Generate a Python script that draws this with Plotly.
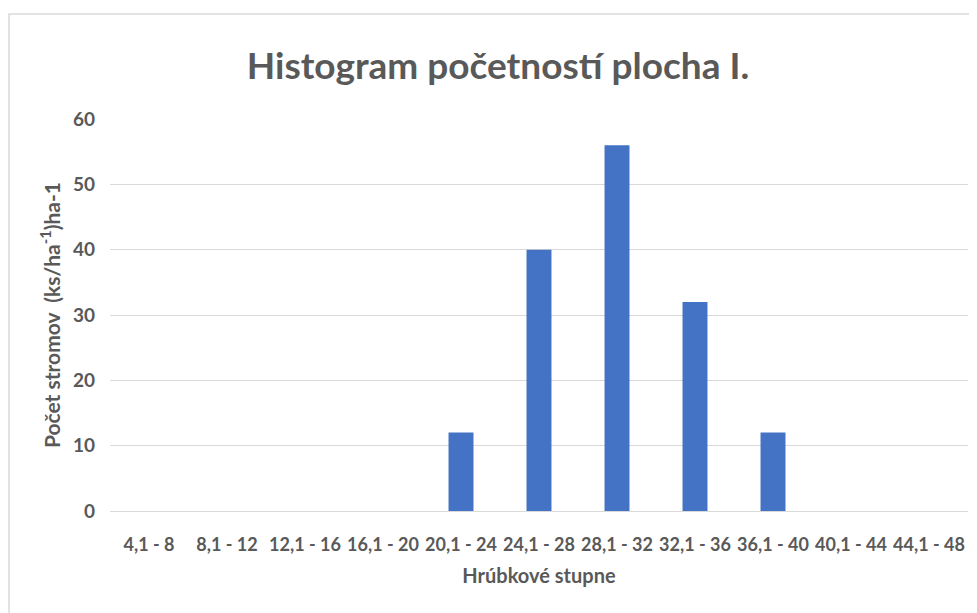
import plotly.graph_objects as go

categories = ["4,1 - 8", "8,1 - 12", "12,1 - 16", "16,1 - 20", "20,1 - 24", "24,1 - 28",
              "28,1 - 32", "32,1 - 36", "36,1 - 40", "40,1 - 44", "44,1 - 48"]
values = [0, 0, 0, 0, 12, 40, 56, 32, 12, 0, 0]
y_ticks = [0, 10, 20, 30, 40, 50, 60]

FONT = "Lato"
GRAY = "#595959"

W, H = 969, 605
L, R, T, B = 102, 9, 111, 102
PW, PH = W - L - R, H - T - B

fig = go.Figure(go.Bar(x=categories, y=values, marker=dict(color="#4472C4", line=dict(width=0))))

fig.update_layout(
    width=W, height=H,
    margin=dict(l=L, r=R, t=T, b=B),
    paper_bgcolor="white", plot_bgcolor="white",
    bargap=0.68,
    showlegend=False,
    title=dict(text="Histogram početností plocha I.", x=490 / W, xanchor="center",
               y=1 - 58 / H, yanchor="middle", yref="container",
               font=dict(family=FONT, size=37, color=GRAY, weight="bold")),
    font=dict(family=FONT, color=GRAY),
)
fig.update_xaxes(
    tickfont=dict(family=FONT, size=18, color=GRAY, weight="bold"),
    ticklabelstandoff=17,
    title=dict(text="Hrúbkové stupne", font=dict(family=FONT, size=20, color=GRAY, weight="bold"), standoff=15),
    showline=True, linecolor="#d9d9d9", linewidth=1, ticks="", showgrid=False,
)
fig.update_yaxes(
    range=[0, 60], tickvals=y_ticks,
    tickfont=dict(family=FONT, size=19, color=GRAY, weight="bold"),
    ticklabelstandoff=14,
    title=dict(text="Počet stromov  (ks/ha<sup>-1</sup>)ha-1", font=dict(family=FONT, size=21, color=GRAY, weight="bold"), standoff=6),
    showgrid=True, gridcolor="#d9d9d9", gridwidth=1, zeroline=False, ticks="",
)
fig.add_shape(type="rect", xref="paper", yref="paper",
              x0=(1 - L) / PW, x1=(W + 20 - L) / PW,
              y0=-(H + 20 - (H - B)) / PH, y1=((H - B) - 6) / PH,
              line=dict(color="#d9d9d9", width=1.5), layer="below")
fig.write_html("out.html")
